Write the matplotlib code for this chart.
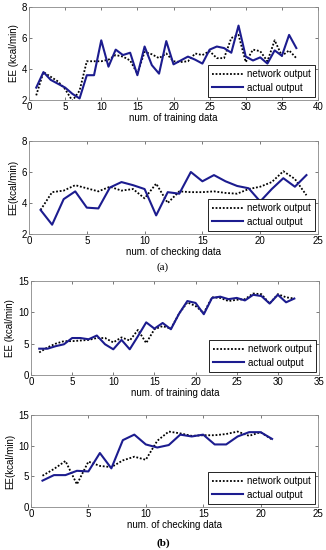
import numpy as np
import matplotlib.pyplot as plt

plt.rcParams['font.family'] = ['Liberation Sans', 'DejaVu Sans']

# (a) training data
a_train_net = [2.3, 3.8, 3.5, 3.2, 2.7, 1.95, 2.6, 4.5, 4.5, 4.5, 4.6, 4.9, 4.8, 4.55, 3.7,
               5.1, 4.95, 4.7, 5.0, 4.5, 4.45, 4.5, 5.0, 4.9, 5.15, 4.7, 4.7, 6.0, 6.2, 4.45,
               5.25, 5.15, 4.5, 5.85, 4.85, 5.2, 4.7]
a_train_act = [2.8, 3.8, 3.3, 3.05, 2.8, 2.4, 2.1, 3.6, 3.6, 5.85, 4.15, 5.25, 4.9, 5.05, 3.6,
               5.45, 4.25, 3.7, 5.8, 4.3, 4.55, 4.8, 4.6, 4.35, 5.25, 5.45, 5.35, 5.05, 6.8, 4.8,
               4.55, 4.75, 4.35, 5.2, 4.85, 6.2, 5.35]

# (a) checking data
a_check_net = [3.55, 4.7, 4.8, 5.15, 4.95, 4.75, 5.05, 4.8, 4.9, 4.3, 5.25, 4.0, 4.75, 4.7,
               4.7, 4.75, 4.65, 4.6, 4.9, 5.05, 5.35, 6.05, 5.55, 4.5]
a_check_act = [3.55, 2.6, 4.25, 4.75, 3.7, 3.65, 5.0, 5.35, 5.15, 4.9, 3.2, 4.7, 4.6, 6.0,
               5.4, 5.8, 5.4, 5.1, 4.95, 4.1, 4.9, 5.6, 5.05, 5.8]

# (b) training data
b_train_net = [3.6, 4.4, 5.0, 5.4, 5.4, 5.5, 5.6, 5.9, 5.9, 5.2, 6.0, 5.5, 7.2, 5.1, 7.3,
               7.8, 7.4, 9.8, 11.6, 11.0, 9.9, 12.4, 12.3, 11.8, 12.0, 12.1, 13.0, 12.9, 11.4,
               12.9, 12.4, 12.2]
b_train_act = [4.2, 4.2, 4.6, 4.9, 5.9, 5.9, 5.7, 6.3, 4.9, 4.1, 5.6, 4.1, 6.2, 8.4, 7.4,
               8.3, 7.3, 9.8, 11.8, 11.5, 9.7, 12.3, 12.5, 12.1, 12.3, 11.9, 12.8, 12.6, 11.4,
               12.8, 11.6, 12.2]

# (b) checking data
b_check_net = [5.1, 6.2, 7.5, 3.7, 7.4, 6.7, 6.5, 7.6, 8.2, 7.7, 10.8, 12.3, 12.0, 11.6,
               11.7, 11.7, 11.9, 12.3, 11.6, 12.2, 11.0]
b_check_act = [4.3, 5.2, 5.2, 5.9, 5.8, 8.8, 6.3, 10.9, 11.8, 10.2, 9.7, 10.1, 11.8, 11.5,
               11.8, 10.2, 10.2, 11.5, 12.2, 12.2, 11.1]

panels = [
    (a_train_net, a_train_act, 'num. of training data', 'EE (kcal/min)', 40, (2, 8), [2, 4, 6, 8]),
    (a_check_net, a_check_act, 'num. of checking data', 'EE(kcal/min)', 25, (2, 8), [2, 4, 6, 8]),
    (b_train_net, b_train_act, 'num. of training data', 'EE (kcal/min)', 35, (0, 15), [0, 5, 10, 15]),
    (b_check_net, b_check_act, 'num. of checking data', 'EE(kcal/min)', 25, (0, 15), [0, 5, 10, 15]),
]

# axes boxes in pixels: left, top, right, bottom
boxes = [(29, 7, 318, 100), (29, 141, 318, 234), (31, 281, 319, 375), (31, 415, 318, 507)]

W, H = 326, 550
fig = plt.figure(figsize=(W / 100, H / 100), dpi=100)
blue = '#1c1c8f'
fs = 7

for (net, act, xl, yl, xmax, ylim, yt), (l, t, r, b) in zip(panels, boxes):
    ax = fig.add_axes([l / W, 1 - b / H, (r - l) / W, (b - t) / H])
    x = np.arange(1, len(net) + 1)
    ax.plot(x, net, color='black', linestyle=(0, (1, 1)), linewidth=1.3, label='network output')
    ax.plot(x, act, color=blue, linestyle='-', linewidth=1.5, label='actual output')
    ax.set_xlim(0, xmax)
    ax.set_ylim(*ylim)
    ax.set_xticks(np.arange(0, xmax + 1, 5))
    ax.set_yticks(yt)
    ax.tick_params(direction='in', top=True, right=True, labelsize=fs, length=2,
                   width=0.5, pad=1.5, colors='#444444', labelcolor='black')
    for s in ax.spines.values():
        s.set_color('#888888')
        s.set_linewidth(0.6)
    ax.set_xlabel(xl, fontsize=fs, labelpad=1)
    ax.set_ylabel(yl, fontsize=fs, labelpad=2)
    leg = ax.legend(loc='lower right', fontsize=fs, handlelength=3.2, fancybox=False,
                    framealpha=1, edgecolor='black', borderpad=0.45, labelspacing=0.35,
                    handletextpad=0.4, borderaxespad=0.3)
    leg.get_frame().set_linewidth(0.6)

fig.text(0.5, 1 - 267 / H, '(a)', ha='center', va='center', fontsize=8,
         family='Liberation Serif')
fig.text(0.5, 1 - 543 / H, '(b)', ha='center', va='center', fontsize=8, fontweight='bold',
         family='Liberation Serif')

fig.savefig('out.png', dpi=100)
plt.close()
